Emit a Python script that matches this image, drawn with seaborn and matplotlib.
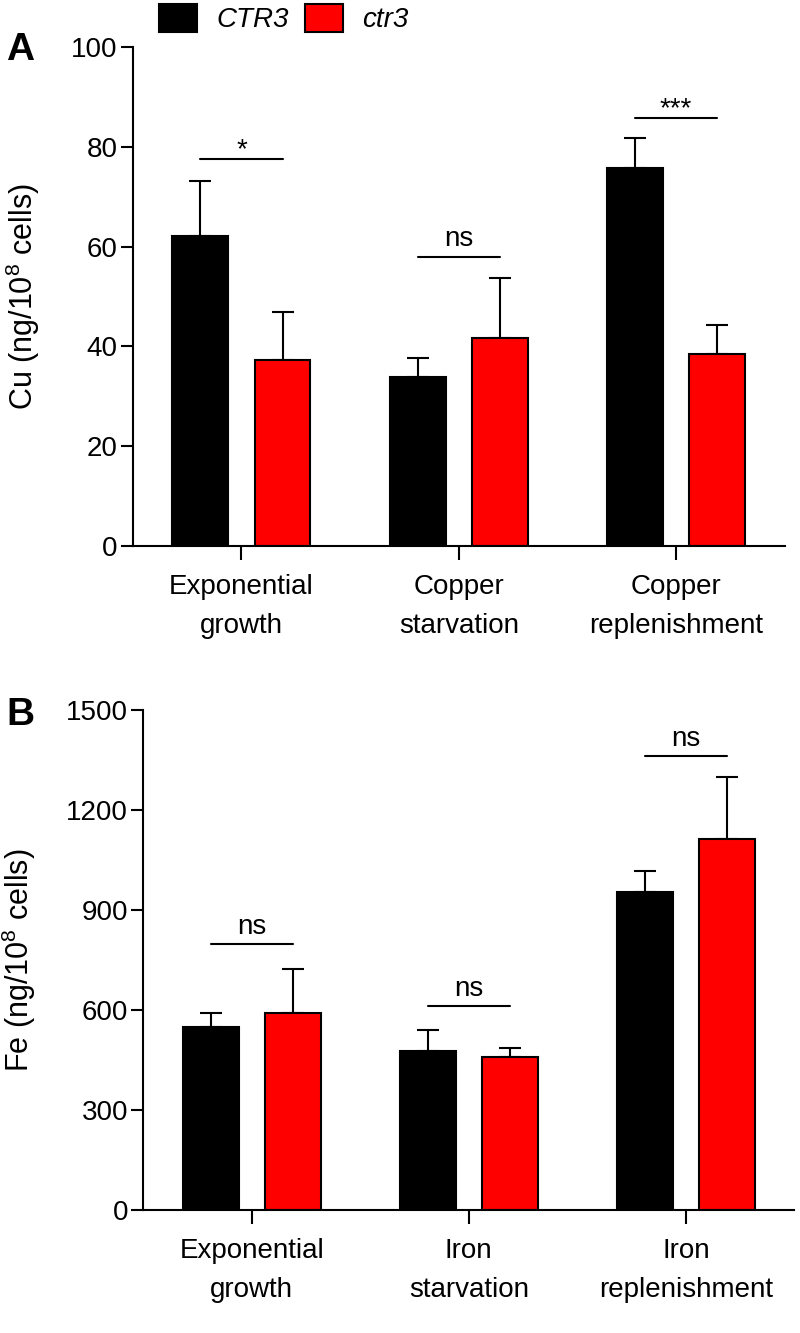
import pandas as pd
import seaborn as sns
import matplotlib.pyplot as plt

# panel A: copper
cu_conditions = ["Exponential\ngrowth", "Copper\nstarvation", "Copper\nreplenishment"]
cu_wt = [62.2, 33.8, 75.8]
cu_wt_err = [11.0, 3.8, 6.0]
cu_mut = [37.2, 41.6, 38.4]
cu_mut_err = [9.6, 12.2, 5.8]
cu_sig = ["*", "ns", "***"]
cu_sig_y = [77.6, 58.0, 85.8]

# panel B: iron
fe_conditions = ["Exponential\ngrowth", "Iron\nstarvation", "Iron\nreplenishment"]
fe_wt = [549, 477, 954]
fe_wt_err = [42, 63, 63]
fe_mut = [591, 459, 1113]
fe_mut_err = [132, 27, 186]
fe_sig = ["ns", "ns", "ns"]
fe_sig_y = [798, 612, 1362]

strains = ["CTR3", "ctr3"]
palette = {"CTR3": "black", "ctr3": "#ff0000"}

sns.set_style("ticks")
plt.rcParams["font.family"] = ["Liberation Sans", "DejaVu Sans"]
plt.rcParams["mathtext.fontset"] = "custom"
plt.rcParams["mathtext.rm"] = "Liberation Sans"
plt.rcParams["axes.linewidth"] = 1.5
for k in ["text.color", "axes.labelcolor", "xtick.color", "ytick.color", "axes.edgecolor"]:
    plt.rcParams[k] = "black"


def make_df(conditions, wt, mut):
    rows = []
    for c, v in zip(conditions, wt):
        rows.append({"condition": c, "strain": strains[0], "value": v})
    for c, v in zip(conditions, mut):
        rows.append({"condition": c, "strain": strains[1], "value": v})
    return pd.DataFrame(rows)


def draw_panel(ax, conditions, wt, wt_err, mut, mut_err, sig, sig_y, ymax, yticks, ylabel):
    df = make_df(conditions, wt, mut)
    sns.barplot(data=df, x="condition", y="value", hue="strain", order=conditions,
                hue_order=strains, palette=palette, saturation=1, width=0.756, gap=0.32,
                edgecolor="black", linewidth=1.5, errorbar=None, ax=ax, legend=False)
    centers = []
    for cont, errs in zip(ax.containers, [wt_err, mut_err]):
        xs = [p.get_x() + p.get_width() / 2 for p in cont]
        ys = [p.get_height() for p in cont]
        centers.append(xs)
        ax.errorbar(xs, ys, yerr=[[0] * len(errs), errs], fmt="none", ecolor="black",
                    elinewidth=1.5, capsize=8, capthick=1.5, zorder=0.5)
    for i, (lab, y) in enumerate(zip(sig, sig_y)):
        x0, x1 = centers[0][i], centers[1][i]
        ax.plot([x0, x1], [y, y], color="black", lw=1.5)
        off = 3 if lab == "ns" else -3
        ax.annotate(lab, ((x0 + x1) / 2, y), xytext=(0, off), textcoords="offset points",
                    ha="center", va="bottom", fontsize=20)
    ax.set_xlim(-0.5, 2.5)
    ax.set_ylim(0, ymax)
    ax.set_yticks(yticks)
    ax.set_xlabel("")
    ax.set_ylabel(ylabel, fontsize=22)
    ax.tick_params(axis="y", labelsize=20, length=9, width=1.5, pad=2)
    ax.tick_params(axis="x", labelsize=20, length=10, width=1.5, pad=10)
    for t in ax.get_xticklabels():
        t.set_linespacing(1.65)
    sns.despine(ax=ax)


fig = plt.figure(figsize=(8, 13.33), dpi=100)
ax1 = fig.add_axes([0.166, 0.5904, 0.815, 0.3743])
ax2 = fig.add_axes([0.179, 0.0923, 0.814, 0.375])

draw_panel(ax1, cu_conditions, cu_wt, cu_wt_err, cu_mut, cu_mut_err, cu_sig, cu_sig_y,
           100, [0, 20, 40, 60, 80, 100], "Cu (ng/10$^{8}$ cells)")
draw_panel(ax2, fe_conditions, fe_wt, fe_wt_err, fe_mut, fe_mut_err, fe_sig, fe_sig_y,
           1500, [0, 300, 600, 900, 1200, 1500], "Fe (ng/10$^{8}$ cells)")
ax1.yaxis.set_label_coords(-0.14, 0.5)
ax2.yaxis.set_label_coords(-0.162, 0.5)

fig.text(0.008, 0.9625, "A", fontsize=28, fontweight="bold", va="center")
fig.text(0.008, 0.4635, "B", fontsize=28, fontweight="bold", va="center")

handles = ax1.containers[0].patches[:1] + ax1.containers[1].patches[:1]
leg = fig.legend(handles, strains, loc="center", bbox_to_anchor=(0.355, 0.986), ncol=2,
                 frameon=False, handlelength=1.35, handleheight=1.2,
                 handletextpad=0.7, columnspacing=0.6, prop={"style": "italic", "size": 20})

fig.savefig("out.png", dpi=100)
